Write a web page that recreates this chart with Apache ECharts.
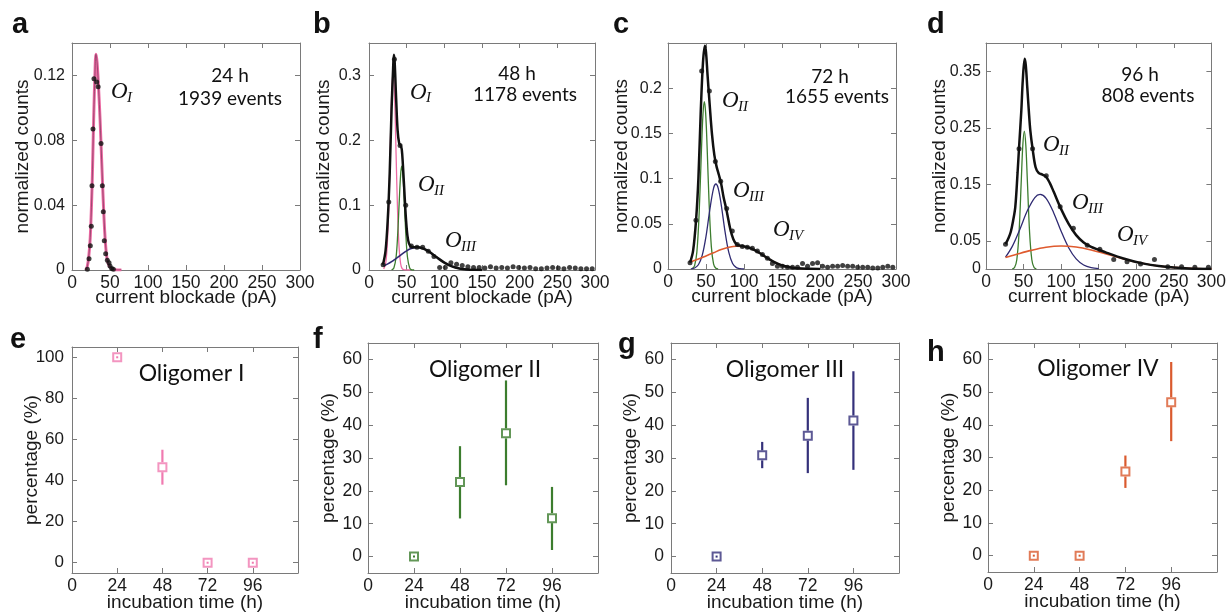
<!DOCTYPE html>
<html><head><meta charset="utf-8">
<script src="https://cdn.jsdelivr.net/npm/echarts@6/dist/echarts.min.js"></script>
<style>html,body{margin:0;padding:0;background:#fff}#c{width:1229px;height:614px}</style>
</head><body><div id="c"></div>
<script>
// ---------------- data ----------------
const blockadeTicks = [0, 50, 100, 150, 200, 250, 300];
const hourTicks = [0, 24, 48, 72, 96];
const yTicksA = [0, 0.04, 0.08, 0.12];
const yTicksB = [0, 0.1, 0.2, 0.3];
const yTicksC = [0, 0.05, 0.1, 0.15, 0.2];
const yTicksD = [0, 0.05, 0.15, 0.25, 0.35];
const pctTicksE = [0, 20, 40, 60, 80, 100];
const pctTicks = [0, 10, 20, 30, 40, 50, 60];

// panel a (24 h)
const histA = [[20.2,0.0004],[22.4,0.007],[24.1,0.015],[25.4,0.027],[26.3,0.052],[27.6,0.087],[28.9,0.118],[32.5,0.116],[34.4,0.113],[38.2,0.078],[39.9,0.052],[41.2,0.036],[42.5,0.018],[44.3,0.01],[46.5,0.006],[48.7,0.0045],[50,0.0025],[52.2,0.001],[54.4,0.0004]];
const fitA_OI = [[18,0],[20,0.002],[22,0.008],[24,0.02],[26,0.045],[27,0.062],[28,0.083],[29,0.102],[30,0.118],[31.5,0.133],[33,0.128],[35,0.112],[37,0.092],[39,0.068],[41,0.044],[43,0.024],[45,0.011],[47,0.005],[50,0.0018],[55,0.0003],[60,0],[65,0]];

// panel b (48 h)
const histB = [[18.75,0.008],[26.25,0.105],[33.75,0.325],[41.25,0.192],[48.75,0.1],[56.25,0.037],[63.75,0.035],[71.25,0.035],[78.75,0.029],[86.25,0.021],[93.75,0.004],[101.25,0.004],[108.75,0.011],[116.25,0.009],[123.75,0.007],[131.25,0.005],[138.75,0.004],[146.25,0.004],[153.75,0.003],[161.25,0.005],[168.75,0.003],[176.25,0.004],[183.75,0.003],[191.25,0.005],[198.75,0.004],[206.25,0.003],[213.75,0.004],[221.25,0.002],[228.75,0.002],[236.25,0.003],[243.75,0.004],[251.25,0.003],[258.75,0.002],[266.25,0.004],[273.75,0.003],[281.25,0.002],[288.75,0.002],[296.25,0.002]];
const fitB_sum = [[18.5,0.008],[22,0.03],[25,0.08],[27.5,0.15],[30,0.25],[32,0.31],[33,0.332],[34,0.322],[36,0.265],[38,0.215],[40,0.196],[42,0.192],[43.5,0.186],[45,0.162],[47,0.12],[49,0.08],[51,0.053],[53,0.041],[56,0.036],[60,0.035],[65,0.035],[70,0.034],[75,0.0315],[80,0.028],[90,0.0195],[100,0.0114],[110,0.0056],[120,0.0023],[130,0.0008],[140,0.0002],[150,0]];
const fitB_OI = [[19.5,0.0014],[22,0.0096],[24,0.034],[26,0.088],[28,0.176],[30,0.267],[32,0.307],[34,0.267],[36,0.176],[38,0.088],[40,0.034],[42,0.0096],[44,0.002],[47,0.0003],[55,0]];
const fitB_OII = [[30,0.0002],[33,0.003],[36,0.0205],[38,0.053],[40,0.102],[42,0.147],[43.5,0.16],[45,0.147],[47,0.102],[49,0.053],[51,0.0205],[54,0.003],[57,0.0002],[60,0]];
const fitB_OIII = [[19,0.006],[25,0.0094],[30,0.0128],[35,0.0169],[40,0.0212],[45,0.0256],[50,0.0295],[55,0.0326],[60,0.0345],[64,0.035],[70,0.0339],[75,0.0315],[80,0.028],[90,0.0195],[100,0.0114],[110,0.0056],[120,0.0023],[130,0.0008],[140,0.0002]];

// panel c (72 h)
const histC = [[29,0.007],[36.8,0.054],[44.3,0.219],[54.4,0.197],[62.3,0.119],[69.3,0.097],[77.2,0.067],[84.6,0.042],[91.2,0.027],[97.8,0.025],[104.4,0.024],[111,0.023],[117.6,0.02],[124.2,0.016],[130.8,0.012],[137.4,0.006],[144,0.003],[150.6,0.003],[157.2,0.002],[163.8,0.002],[170.4,0.002],[177,0.006],[183.6,0.003],[190.2,0.006],[196.8,0.007],[203.4,0.003],[210,0.002],[216.6,0.003],[223.2,0.003],[229.8,0.004],[236.4,0.003],[243,0.003],[249.6,0.002],[256.2,0.002],[262.8,0.002],[269.4,0.001],[276,0.001],[282.6,0.002],[289.2,0.003],[295.8,0.002]];
const fitC_sum = [[29,0.007],[33,0.02],[37,0.055],[40,0.1],[43,0.172],[46,0.228],[48.5,0.247],[50,0.24],[52,0.215],[55,0.18],[58,0.148],[61,0.126],[64,0.113],[67,0.104],[70,0.094],[73,0.08],[77,0.065],[82,0.044],[86,0.033],[90,0.0275],[95,0.0258],[100,0.025],[110,0.0225],[120,0.018],[130,0.0125],[140,0.0075],[150,0.004],[160,0.002],[170,0.0008],[185,0.0002],[200,0]];
const fitC_OII = [[32,0.0005],[35,0.0038],[38,0.019],[41,0.062],[44,0.1315],[46,0.171],[47.8,0.185],[49.5,0.173],[51.5,0.134],[54,0.0746],[57,0.025],[60,0.0055],[63,0.0008],[66,0.0001]];
const fitC_OIII = [[30,0.0002],[35,0.0011],[40,0.0047],[45,0.015],[50,0.036],[55,0.0655],[60,0.0894],[63,0.094],[66,0.0894],[70,0.0712],[75,0.0416],[80,0.0183],[85,0.0061],[90,0.0015],[95,0.0003],[100,0]];
const fitC_OIV = [[30,0.008],[40,0.011],[50,0.0145],[60,0.018],[70,0.0215],[80,0.024],[90,0.0252],[100,0.0248],[110,0.0225],[120,0.018],[130,0.0125],[140,0.0075],[150,0.004],[160,0.002],[170,0.0008],[180,0.0003],[190,0.0001],[200,0]];

// panel d (96 h)
const histD = [[26,0.044],[44,0.213],[62,0.213],[80.2,0.165],[98.7,0.11],[116.3,0.072],[134.8,0.042],[151.5,0.035],[170,0.017],[187.7,0.013],[205.7,0.0088],[224.2,0.017],[241.9,0.0041],[260.3,0.0041],[278,0.003],[296,0.003]];
const fitD_sum = [[26,0.044],[30,0.055],[33,0.066],[36,0.085],[39,0.11],[42,0.17],[44,0.215],[47,0.28],[49,0.335],[51.5,0.372],[53,0.36],[55,0.32],[57,0.28],[59,0.245],[62,0.213],[66,0.18],[70,0.17],[75,0.167],[80,0.163],[85,0.152],[90,0.137],[100,0.106],[110,0.08],[120,0.06],[130,0.047],[140,0.039],[150,0.034],[160,0.029],[175,0.022],[190,0.016],[210,0.0095],[230,0.0052],[250,0.0025],[270,0.001],[300,0.0002]];
const fitD_OII = [[35,0.0002],[38,0.0025],[41,0.0164],[44,0.065],[47,0.158],[49,0.219],[51,0.244],[53,0.219],[55,0.158],[58,0.065],[61,0.0164],[64,0.0025],[67,0.0002]];
const fitD_OIII = [[26,0.021],[35,0.04],[45,0.07],[55,0.103],[65,0.1265],[72,0.132],[80,0.125],[90,0.0997],[100,0.0668],[110,0.0377],[120,0.0179],[130,0.0071],[140,0.0024],[150,0.0007]];
const fitD_OIV = [[26,0.0204],[40,0.0258],[60,0.033],[80,0.0385],[100,0.0406],[120,0.0389],[140,0.0337],[160,0.0265],[180,0.019],[200,0.0123],[220,0.0072],[240,0.0038],[260,0.0019],[280,0.0008],[300,0.0003]];

// panels e-h (percentages)
const hours = [24, 48, 72, 96];
const oligoI = [100, 46.5, 0, 0];
const oligoI_lo = [100, 38, 0, 0];
const oligoI_hi = [100, 55, 0, 0];
const oligoII = [0, 22.7, 37.5, 11.7];
const oligoII_lo = [0, 11.6, 21.7, 2.0];
const oligoII_hi = [0, 33.6, 53.6, 21.2];
const oligoIII = [0, 30.8, 36.8, 41.4];
const oligoIII_lo = [0, 26.9, 25.4, 26.4];
const oligoIII_hi = [0, 34.9, 48.3, 56.4];
const oligoIV = [0, 0, 25.7, 46.9];
const oligoIV_lo = [0, 0, 20.7, 35.0];
const oligoIV_hi = [0, 0, 30.6, 59.2];

// ---------------- styling ----------------
const AX = '#7a7a7a', TXT = '#1a1a1a', FONT = '"Liberation Sans", Arial, sans-serif';
const PINK = '#ec6aa3', GREEN = '#3c7d2e', NAVY = '#2f2a72', ORANGE = '#df5a2e';
const layout = [
  {left:72, top:43, width:228, height:227},
  {left:369, top:43, width:226, height:227},
  {left:668, top:43, width:228, height:226},
  {left:986, top:43, width:227, height:226},
  {left:72, top:347, width:226, height:226},
  {left:368, top:343, width:230, height:230},
  {left:671, top:343, width:228, height:230},
  {left:988, top:343, width:229, height:229}
];
const axisCfg = [
  {xr:[0,300], xt:blockadeTicks, xn:'current blockade (pA)', xGap:18, yr:[0,0.14], yt:yTicksA, yn:'normalized counts', yGap:40, yMargin:7, yFs:16},
  {xr:[0,300], xt:blockadeTicks, xn:'current blockade (pA)', xGap:18, yr:[0,0.35], yt:yTicksB, yn:'normalized counts', yGap:36, yMargin:8, yFs:16},
  {xr:[0,300], xt:blockadeTicks, xn:'current blockade (pA)', xGap:18, yr:[0,0.25], yt:yTicksC, yn:'normalized counts', yGap:37, yMargin:6, yFs:16},
  {xr:[0,300], xt:blockadeTicks, xn:'current blockade (pA)', xGap:18, yr:[0,0.4], yt:yTicksD, yn:'normalized counts', yGap:37, yMargin:5, yFs:16},
  {xr:[0,120], xt:hourTicks, xn:'incubation time (h)', xGap:20, yr:[-5,105], yt:pctTicksE, yn:'percentage (%)', yGap:31, yMargin:8, yFs:17},
  {xr:[0,120], xt:hourTicks, xn:'incubation time (h)', xGap:20, yr:[-5,65], yt:pctTicks, yn:'percentage (%)', yGap:30, yMargin:6, yFs:17.5},
  {xr:[0,120], xt:hourTicks, xn:'incubation time (h)', xGap:20, yr:[-5,65], yt:pctTicks, yn:'percentage (%)', yGap:31, yMargin:7, yFs:17.5},
  {xr:[0,120], xt:hourTicks, xn:'incubation time (h)', xGap:20, yr:[-5,65], yt:pctTicks, yn:'percentage (%)', yGap:30, yMargin:6, yFs:17.5}
];

const grids = [], xAxes = [], yAxes = [];
axisCfg.forEach((c, i) => {
  grids.push(Object.assign({containLabel:false}, layout[i]));
  const line = {show:true, onZero:false, lineStyle:{color:AX, width:1}};
  const tick = (vals) => ({show:true, inside:true, length:5, customValues:vals, lineStyle:{color:AX, width:1}});
  const lab = (vals, m, fs) => ({show:true, customValues:vals, margin:m, fontSize:fs, color:TXT, fontFamily:FONT, formatter:v => String(v)});
  xAxes.push({gridIndex:i, type:'value', position:'bottom', min:c.xr[0], max:c.xr[1],
    axisLine:line, axisTick:tick(c.xt), axisLabel:lab(c.xt, 4, 17.5), splitLine:{show:false},
    name:c.xn, nameLocation:'middle', nameGap:c.xGap, nameMoveOverlap:false,
    nameTextStyle:{fontSize:19, color:TXT, fontFamily:FONT}});
  xAxes.push({gridIndex:i, type:'value', position:'top', min:c.xr[0], max:c.xr[1],
    axisLine:line, axisTick:tick(c.xt), axisLabel:{show:false}, splitLine:{show:false}});
  yAxes.push({gridIndex:i, type:'value', position:'left', min:c.yr[0], max:c.yr[1],
    axisLine:line, axisTick:tick(c.yt), axisLabel:lab(c.yt, c.yMargin, c.yFs), splitLine:{show:false},
    name:c.yn, nameLocation:'middle', nameGap:c.yGap, nameMoveOverlap:false,
    nameTextStyle:{fontSize:19, color:TXT, fontFamily:FONT}});
  yAxes.push({gridIndex:i, type:'value', position:'right', min:c.yr[0], max:c.yr[1],
    axisLine:line, axisTick:tick(c.yt), axisLabel:{show:false}, splitLine:{show:false}});
});

function curve(i, data, color, width, z) {
  return {type:'line', xAxisIndex:2*i, yAxisIndex:2*i, data, smooth:0.35, symbol:'none', showSymbol:false,
    lineStyle:{color, width}, z, silent:true, clip:true};
}
function dots(i, data) {
  return {type:'scatter', xAxisIndex:2*i, yAxisIndex:2*i, data, symbol:'circle', symbolSize:5,
    itemStyle:{color:'#111'}, z:6, silent:true};
}
function pct(i, vals, lo, hi, color) {
  return [
    {type:'scatter', xAxisIndex:2*i, yAxisIndex:2*i, data:hours.map((h,k)=>[h, vals[k]]),
      symbol:'rect', symbolSize:8, itemStyle:{color:'rgba(255,255,255,0)', borderColor:color, borderWidth:2}, z:5, silent:true},
    {type:'custom', xAxisIndex:2*i, yAxisIndex:2*i, data:hours.map((h,k)=>[h, vals[k], lo[k], hi[k]]),
      encode:{x:0, y:[1,2,3]}, z:6, silent:true,
      renderItem(params, api) {
        const x = api.value(0);
        const c = api.coord([x, api.value(1)]);
        const pl = api.coord([x, api.value(2)]);
        const ph = api.coord([x, api.value(3)]);
        const half = 5, st = {stroke:color, lineWidth:2.2};
        const ch = [];
        if (ph[1] < c[1] - half) ch.push({type:'line', shape:{x1:c[0], y1:ph[1], x2:c[0], y2:c[1]-half}, style:st});
        if (pl[1] > c[1] + half) ch.push({type:'line', shape:{x1:c[0], y1:c[1]+half, x2:c[0], y2:pl[1]}, style:st});
        if (Math.abs(pl[1] - ph[1]) < 1) ch.push({type:'rect', shape:{x:c[0]-1, y:c[1]-1, width:2, height:2}, style:{fill:color}});
        return {type:'group', children:ch};
      }}
  ];
}

const series = [
  curve(0, fitA_OI, PINK, 3, 2), curve(0, fitA_OI, '#7a3a5a', 0.7, 3), dots(0, histA),
  curve(1, fitB_OI, PINK, 1.3, 2), curve(1, fitB_OII, GREEN, 1.3, 2), curve(1, fitB_OIII, NAVY, 1.6, 2),
  curve(1, fitB_sum, '#111', 2.5, 3), dots(1, histB),
  curve(2, fitC_OII, GREEN, 1.3, 2), curve(2, fitC_OIII, NAVY, 1.3, 2), curve(2, fitC_OIV, ORANGE, 1.6, 2),
  curve(2, fitC_sum, '#111', 2.5, 3), dots(2, histC),
  curve(3, fitD_OII, GREEN, 1.3, 2), curve(3, fitD_OIII, NAVY, 1.3, 2), curve(3, fitD_OIV, ORANGE, 1.6, 2),
  curve(3, fitD_sum, '#111', 2.5, 3), dots(3, histD),
  ...pct(4, oligoI, oligoI_lo, oligoI_hi, '#f07ab0'),
  ...pct(5, oligoII, oligoII_lo, oligoII_hi, '#3c7d2e'),
  ...pct(6, oligoIII, oligoIII_lo, oligoIII_hi, '#34307a'),
  ...pct(7, oligoIV, oligoIV_lo, oligoIV_hi, '#da5a2e')
];

// ---------------- text annotations ----------------
const graphics = [];
function txt(x, y, text, font, align) {
  graphics.push({type:'text', x, y, silent:true,
    style:{text, font, fill:'#111', align:align||'left', verticalAlign:'middle', textAlign:align||'left', textVerticalAlign:'middle'}});
}
const LET = 'bold 29px "Liberation Sans", Arial, sans-serif';
[['a',12,25],['b',313,25],['c',613,25],['d',927,25],['e',10,340],['f',313,340],['g',618,345],['h',927,353]]
  .forEach(l => txt(l[1], l[2], l[0], LET));
const ANN = '19px Lato, "Open Sans", sans-serif';
txt(230, 76, '24 h', ANN, 'center'); txt(230, 99, '1939 events', ANN, 'center');
txt(517, 74, '48 h', ANN, 'center'); txt(525, 95, '1178 events', ANN, 'center');
txt(830, 77, '72 h', ANN, 'center'); txt(837, 97, '1655 events', ANN, 'center');
txt(1140, 75, '96 h', ANN, 'center'); txt(1148, 96, '808 events', ANN, 'center');
const OLI = '23px Lato, "Open Sans", sans-serif';
txt(191.5, 374, 'Oligomer I', OLI, 'center');
txt(485, 370, 'Oligomer II', OLI, 'center');
txt(785, 370, 'Oligomer III', OLI, 'center');
txt(1098, 369, 'Oligomer IV', OLI, 'center');
const OF = 'italic 23px "Liberation Serif", "DejaVu Serif", serif';
const SF = 'italic 15px "Liberation Serif", "DejaVu Serif", serif';
function olab(x, y, sub) { txt(x, y, 'O', OF); txt(x + 16, y + 6, sub, SF); }
olab(111, 92, 'I');
olab(410, 92.5, 'I'); olab(418, 185, 'II'); olab(445, 241, 'III');
olab(722, 101, 'II'); olab(733, 191, 'III'); olab(773, 230, 'IV');
olab(1043, 145, 'II'); olab(1072, 203, 'III'); olab(1117, 235, 'IV');

const chart = echarts.init(document.getElementById('c'), null, {renderer:'canvas'});
chart.setOption({
  animation:false,
  backgroundColor:'#ffffff',
  grid:grids, xAxis:xAxes, yAxis:yAxes, series, graphic:graphics
});
</script>
</body></html>
